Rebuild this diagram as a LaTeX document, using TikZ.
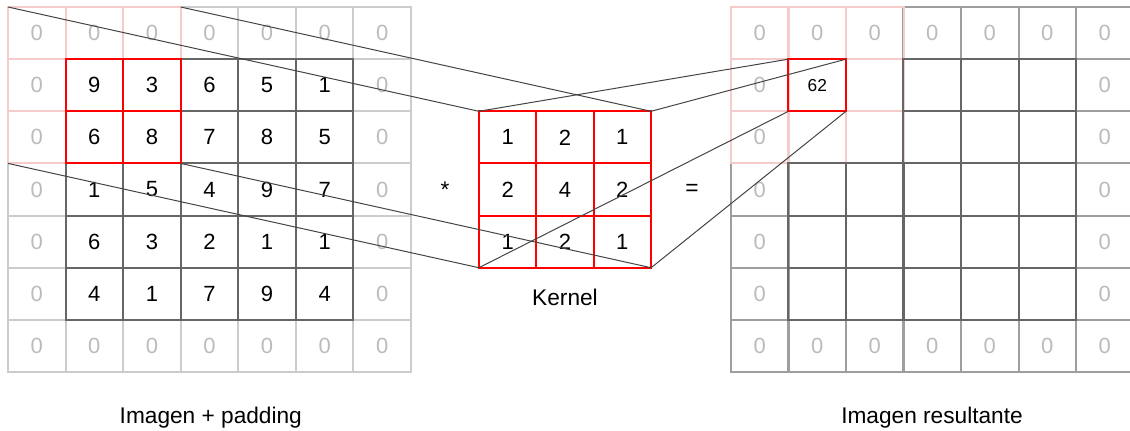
\documentclass[tikz,border=0pt]{standalone}
\usepackage{fontspec}
\setmainfont{Liberation Sans}
\definecolor{padL}{HTML}{CCCCCC}
\definecolor{padRc}{HTML}{9E9E9E}
\definecolor{innerc}{HTML}{666666}
\definecolor{pinkc}{HTML}{F4CCCC}
\definecolor{zeroc}{HTML}{BBBBBB}
\definecolor{connc}{HTML}{444444}
\tikzset{
  cell/.style={draw, rectangle, minimum width=43.15pt, minimum height=39.1pt,
    inner sep=0pt, outer sep=0pt, line width=1.5pt, font=\fontsize{16.5}{18}\selectfont},
  lpad/.style={cell, draw=padL, text=zeroc},
  rpad/.style={cell, draw=padRc, text=zeroc},
  pinkcell/.style={cell, draw=pinkc, text=zeroc},
  innercell/.style={cell, draw=innerc, text=black},
  redcell/.style={cell, draw=red, text=black},
  conn/.style={draw=connc, line width=0.75pt},
  label/.style={font=\fontsize{17}{20}\selectfont, text=black, inner sep=0pt}
}
\begin{document}
\begin{tikzpicture}[x=0.75pt,y=-0.75pt]
\useasboundingbox (0,0) rectangle (1130,430);
\clip (0,0) rectangle (1130,430);
% ---------------- left grid ----------------
\foreach \r/\c in {0/3,0/4,0/5,0/6,6/0,6/1,6/2,6/3,6/4,6/5,6/6,3/0,4/0,5/0,1/6,2/6,3/6,4/6,5/6}
  \node[lpad] (L-\r-\c) at ({36.79+57.571*\c},{33.07+52.143*\r}) {0};
\foreach \r/\c in {0/0,0/1,0/2,1/0,2/0}
  \node[pinkcell] (L-\r-\c) at ({36.79+57.571*\c},{33.07+52.143*\r}) {0};
\foreach \r/\c/\v in {1/3/6,1/4/5,1/5/1,2/3/7,2/4/8,2/5/5,3/1/1,3/2/5,3/3/4,3/4/9,3/5/7,4/1/6,4/2/3,4/3/2,4/4/1,4/5/1,5/1/4,5/2/1,5/3/7,5/4/9,5/5/4}
  \node[innercell] (L-\r-\c) at ({36.79+57.571*\c},{33.07+52.143*\r}) {\v};
\foreach \r/\c/\v in {1/1/9,1/2/3,2/1/6,2/2/8}
  \node[redcell] (L-\r-\c) at ({36.79+57.571*\c},{33.07+52.143*\r}) {\v};
% ---------------- kernel ----------------
\foreach \r/\c/\v in {0/0/1,0/1/2,0/2/1,1/0/2,1/1/4,1/2/2,2/0/1,2/1/2,2/2/1}
  \node[redcell] (K-\r-\c) at ({507.67+57.33*\c},{137.36+52.143*\r}) {\v};
% ---------------- right grid ----------------
\foreach \r/\c in {0/3,0/4,0/5,0/6,6/0,6/1,6/2,6/3,6/4,6/5,6/6,3/0,4/0,5/0,1/6,2/6,3/6,4/6,5/6}
  \node[rpad] (R-\r-\c) at ({759.75+57.5*\c},{33.07+52.143*\r}) {0};
\foreach \r/\c in {0/0,0/1,0/2,1/0,2/0}
  \node[pinkcell] (R-\r-\c) at ({759.75+57.5*\c},{33.07+52.143*\r}) {0};
\foreach \r/\c in {1/2,2/1,2/2}
  \node[pinkcell] (R-\r-\c) at ({759.75+57.5*\c},{33.07+52.143*\r}) {};
\foreach \r/\c in {1/3,1/4,1/5,2/3,2/4,2/5,3/1,3/2,3/3,3/4,3/5,4/1,4/2,4/3,4/4,4/5,5/1,5/2,5/3,5/4,5/5}
  \node[innercell] (R-\r-\c) at ({759.75+57.5*\c},{33.07+52.143*\r}) {};
\node[redcell, font=\fontsize{13}{14}\selectfont] (R-1-1) at ({759.75+57.5},{33.07+52.143}) {62};
% ---------------- connectors ----------------
\draw[conn] (L-0-0.north west) -- (K-0-0.north west);
\draw[conn] (L-0-2.north east) -- (K-0-2.north east);
\draw[conn] (L-2-0.south west) -- (K-2-0.south west);
\draw[conn] (L-2-2.south east) -- (K-2-2.south east);
\draw[conn] (K-0-0.north west) -- (R-1-1.north west);
\draw[conn] (K-0-2.north east) -- (R-1-1.north east);
\draw[conn] (K-2-0.south west) -- (R-1-1.south west);
\draw[conn] (K-2-2.south east) -- (R-1-1.south east);
% ---------------- labels ----------------
\node[label] (star) at (445,190) {*};
\node[label] (eq) at (692,190) {=};
\node[label] (kern) at (565,297) {Kernel};
\node[label, anchor=base] (limg) at (210.8,423.3) {Imagen + padding};
\node[label, anchor=base] (rimg) at (932,423.3) {Imagen resultante};
\end{tikzpicture}
\end{document}
